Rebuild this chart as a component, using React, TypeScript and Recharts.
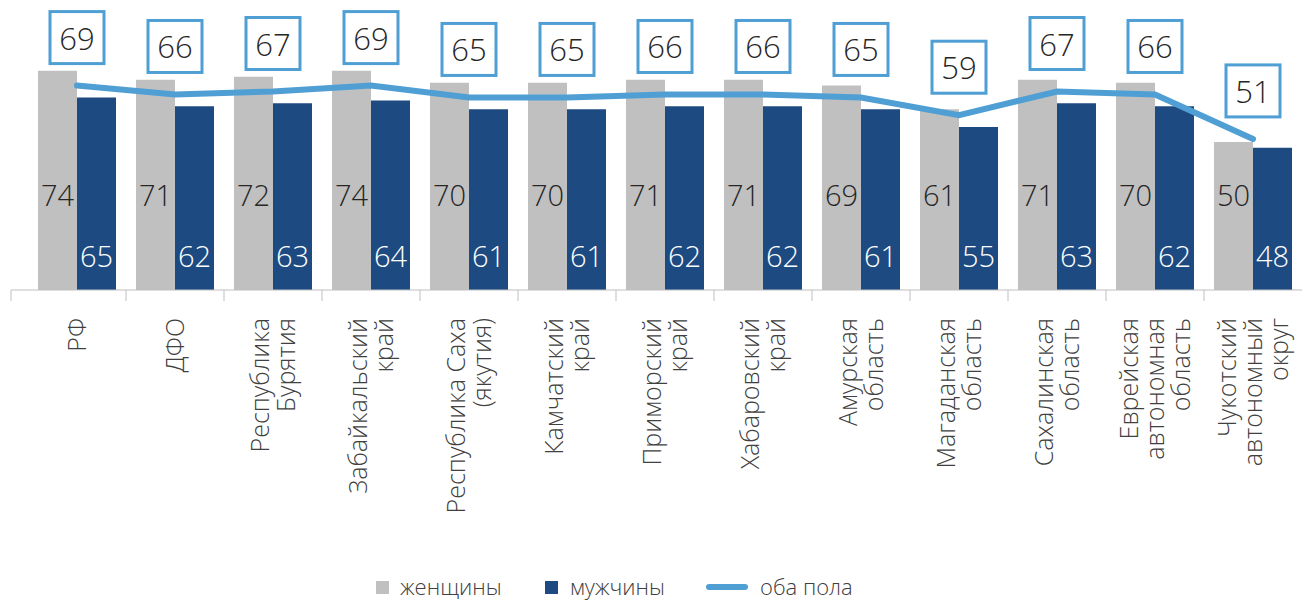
import React from "react";
import { Bar, ComposedChart, LabelList, Line, XAxis, YAxis } from "recharts";

const categories = [
  "РФ",
  "ДФО",
  "Республика\nБурятия",
  "Забайкальский\nкрай",
  "Республика Саха\n(якутия)",
  "Камчатский\nкрай",
  "Приморский\nкрай",
  "Хабаровский\nкрай",
  "Амурская\nобласть",
  "Магаданская\nобласть",
  "Сахалинская\nобласть",
  "Еврейская\nавтономная\nобласть",
  "Чукотский\nавтономный\nокруг",
];
const women = [74, 71, 72, 74, 70, 70, 71, 71, 69, 61, 71, 70, 50];
const men = [65, 62, 63, 64, 61, 61, 62, 62, 61, 55, 63, 62, 48];
const both = [69, 66, 67, 69, 65, 65, 66, 66, 65, 59, 67, 66, 51];

const data = categories.map((name, i) => ({ name, women: women[i], men: men[i], both: both[i] }));

const W = 1305;
const H = 600;
const M = { top: 53, right: 3, left: 11, bottom: 60 };
const PAD_LEFT = 17;
const STEP = (W - M.left - M.right - PAD_LEFT) / categories.length;

const GRAY = "#c0c0c0";
const BLUE = "#1d4a81";
const LINE = "#4f9fd4";
const TEXT = "#262626";
const FONT = "'Open Sans', 'DejaVu Sans', sans-serif";

function CategoryTick(props: any) {
  const { x, y, payload } = props;
  const lines = String(payload.value).split("\n");
  const tx = payload.index === 0 ? M.left : x - STEP / 2;
  const lh = 26;
  const ay = y + 28;
  return (
    <g>
      <line x1={tx} x2={tx} y1={y} y2={y + 11} stroke="#bfbfbf" strokeWidth={1} />
      <text
        x={x}
        y={ay}
        transform={`rotate(-90, ${x}, ${ay})`}
        textAnchor="end"
        fontFamily={FONT}
        fontWeight={300}
        fontSize={25}
        fill="#404040"
      >
        {lines.map((l, i) => (
          <tspan key={i} x={x} y={ay + (i - (lines.length - 1) / 2) * lh + 9}>
            {l}
          </tspan>
        ))}
      </text>
    </g>
  );
}

function makeBarLabel(offset: number, color: string) {
  return (props: any) => {
    const { x, y, width, height, value } = props;
    const bottom = y + height;
    return (
      <text
        x={x + width / 2}
        y={bottom - offset}
        textAnchor="middle"
        dominantBaseline="central"
        fontFamily={FONT}
        fontWeight={300}
        fontSize={29}
        fill={color}
      >
        {value}
      </text>
    );
  };
}

function BoxLabel(props: any) {
  const { x, y, value } = props;
  const cy = y - 48;
  return (
    <g>
      <rect x={x - 27} y={cy - 26} width={54} height={52} fill="#fff" stroke={LINE} strokeWidth={3} />
      <text
        x={x}
        y={cy}
        textAnchor="middle"
        dominantBaseline="central"
        fontFamily={FONT}
        fontWeight={300}
        fontSize={31}
        fill={TEXT}
      >
        {value}
      </text>
    </g>
  );
}

function LegendRow() {
  const item: React.CSSProperties = {
    position: "absolute",
    top: 573,
    fontFamily: FONT,
    fontWeight: 300,
    fontSize: 22,
    color: "#404040",
    lineHeight: "26px",
    whiteSpace: "nowrap",
  };
  return (
    <>
      <div style={{ position: "absolute", left: 376, top: 581, width: 13, height: 13, background: GRAY }} />
      <div style={{ ...item, left: 400 }}>женщины</div>
      <div style={{ position: "absolute", left: 545, top: 581, width: 13, height: 13, background: BLUE }} />
      <div style={{ ...item, left: 570 }}>мужчины</div>
      <div style={{ position: "absolute", left: 706, top: 584, width: 42, height: 6, borderRadius: 3, background: LINE }} />
      <div style={{ ...item, left: 760 }}>оба пола</div>
    </>
  );
}

export default function App() {
  return (
    <div style={{ position: "absolute", left: 0, top: 0, width: W, height: H, background: "#fff" }}>
      <ComposedChart width={W} height={H} data={data} margin={M} barCategoryGap={10} barGap={0}>
        <XAxis
          dataKey="name"
          interval={0}
          height={H - M.top - M.bottom - 237}
          padding={{ left: PAD_LEFT, right: 0 }}
          tickLine={false}
          tickSize={0}
          tickMargin={0}
          axisLine={{ stroke: "#bfbfbf" }}
          tick={<CategoryTick />}
        />
        <YAxis hide domain={[0, 80]} />
        <Bar dataKey="women" fill={GRAY} isAnimationActive={false}>
          <LabelList dataKey="women" content={makeBarLabel(96, TEXT)} />
        </Bar>
        <Bar dataKey="men" fill={BLUE} isAnimationActive={false}>
          <LabelList dataKey="men" content={makeBarLabel(35, "#ffffff")} />
        </Bar>
        <Line
          dataKey="both"
          type="linear"
          stroke={LINE}
          strokeWidth={6}
          strokeLinecap="round"
          dot={false}
          activeDot={false}
          isAnimationActive={false}
        >
          <LabelList dataKey="both" content={<BoxLabel />} />
        </Line>
      </ComposedChart>
      <LegendRow />
    </div>
  );
}
